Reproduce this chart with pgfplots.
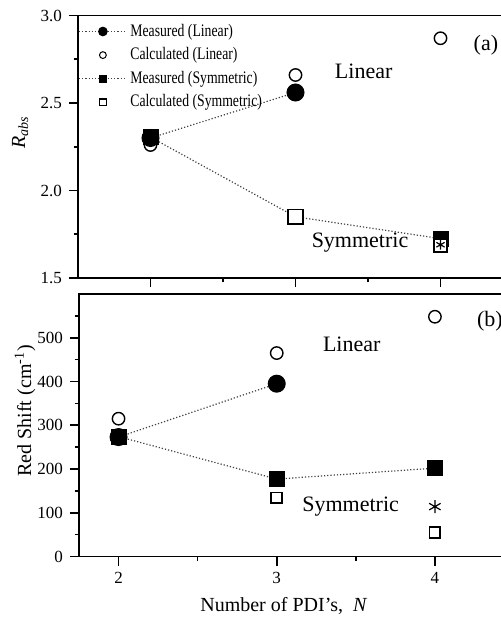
\documentclass[border=0pt]{standalone}
\usepackage{pgfplots}
\pgfplotsset{compat=1.18}
\usepackage{fontspec}
\setmainfont{Liberation Serif}
\newfontfamily\legfont[FakeStretch=0.78]{Liberation Serif}

\pgfdeclareplotmark{ast6}{%
  \pgfpathmoveto{\pgfqpoint{0pt}{\pgfplotmarksize}}\pgfpathlineto{\pgfqpoint{0pt}{-\pgfplotmarksize}}%
  \pgfpathmoveto{\pgfpointpolar{30}{\pgfplotmarksize}}\pgfpathlineto{\pgfpointpolar{210}{\pgfplotmarksize}}%
  \pgfpathmoveto{\pgfpointpolar{150}{\pgfplotmarksize}}\pgfpathlineto{\pgfpointpolar{330}{\pgfplotmarksize}}%
  \pgfusepathqstroke}

\pgfplotsset{
  panel/.style={
    scale only axis, width=217.5pt, height=131.25pt,
    tick align=outside, xtick pos=bottom, ytick pos=left,
    major tick length=4.5pt, minor tick length=2.2pt,
    tick style={line width=0.8pt, black},
    axis line style={line width=0.9pt},
    /pgf/number format/assume math mode=true,
    tick label style={font=\fontsize{8.5}{10}\selectfont},
    label style={font=\fontsize{11}{13}\selectfont},
    clip=false,
  },
  dotline/.style={black!75, line width=0.6pt, dash pattern=on 0.6pt off 1pt},
  fcirc/.style={dotline, mark=*, mark size=#1, mark options={solid, fill=black, draw=black}},
  fcirc/.default=4.2pt,
  ocirc/.style={only marks, mark=o, mark size=#1, mark options={solid, fill=white, draw=black, line width=0.7pt}},
  ocirc/.default=3.1pt,
  ocircl/.style={only marks, mark=o, mark size=#1, mark options={solid, fill=white, draw=black, line width=0.5pt}},
  fsq/.style={dotline, mark=square*, mark size=#1, mark options={solid, fill=black, draw=black}},
  fsq/.default=3.7pt,
  osq/.style={only marks, mark=square*, mark size=#1, mark options={solid, fill=white, draw=black, line width=0.9pt}},
  osql/.style={only marks, mark=square*, mark size=#1, mark options={solid, fill=white, draw=black, line width=0.6pt}},
  ast/.style={only marks, mark=ast6, mark size=#1, mark options={solid, draw=black, line width=0.6pt}},
  ast/.default=3.3pt,
}

\begin{document}
\begin{tikzpicture}
\begin{axis}[panel,
  at={(39pt,-7.75pt)}, anchor=north west,
  xmin=1.5, xmax=4.5, xtick={2,3,4}, minor xtick={2.5,3.5}, xticklabels={,,},
  ymin=1.5, ymax=3.0, ytick={1.5,2.0,2.5,3.0}, minor ytick={1.75,2.25,2.75},
  yticklabel style={/pgf/number format/.cd, fixed, fixed zerofill, precision=1},
  ylabel={\textit{R}\textsubscript{\textit{abs}}},
  every axis y label/.style={at={(axis description cs:-0.133,0.556)}, rotate=90, anchor=center},
  legend image code/.code={\draw[mark repeat=2, mark phase=2, #1] plot coordinates {(0cm,0cm) (0.42cm,0cm) (0.84cm,0cm)};},
  legend style={at={(0,1)}, anchor=north west, draw=none, fill=none,
    inner xsep=0pt, inner ysep=4pt, font=\legfont\fontsize{8.8}{10}\selectfont,
    row sep=4.2pt, column sep=1.5pt,
    nodes={inner sep=0pt}, cells={anchor=west}},
]
\addlegendimage{fcirc=2.1pt}
\addlegendentry{Measured (Linear)}
\addlegendimage{ocircl=1.7pt}
\addlegendentry{Calculated (Linear)}
\addlegendimage{fsq=1.8pt}
\addlegendentry{Measured (Symmetric)}
\addlegendimage{osql=1.7pt}
\addlegendentry{Calculated (Symmetric)}

\addplot[fcirc, forget plot] coordinates {(2,2.30) (3,2.56)};
\addplot[fsq, forget plot] coordinates {(2,2.305) (3,1.85) (4,1.725)};
\addplot[ocirc, forget plot] coordinates {(2,2.26) (3,2.66) (4,2.87)};
\addplot[osq=3.6pt, forget plot] coordinates {(3,1.85)};
\addplot[osq=3.2pt, forget plot] coordinates {(4,1.685)};
\addplot[ast=2.4pt, forget plot] coordinates {(4,1.69)};

\node[font=\fontsize{11}{13}\selectfont] at (axis cs:3.47,2.682) {Linear};
\node[font=\fontsize{11}{13}\selectfont] at (axis cs:3.445,1.704) {Symmetric};
\node[font=\fontsize{11}{13}\selectfont, anchor=west, inner sep=0pt] at (axis cs:4.226,2.828) {(a)};
\end{axis}

\begin{axis}[panel,
  at={(39.5pt,-147pt)}, anchor=north west,
  xmin=1.75, xmax=4.5, xtick={2,3,4}, minor xtick={2.5,3.5},
  ymin=0, ymax=600, ytick={0,100,200,300,400,500}, minor ytick={50,150,250,350,450,550},
  ylabel={Red Shift (cm\textsuperscript{-1})},
  every axis y label/.style={at={(axis description cs:-0.124,0.555)}, rotate=90, anchor=center},
  xlabel={Number of PDI's,~~\textit{N}},
  every axis x label/.style={at={(axis description cs:0.471,-0.19)}, anchor=center},
]
\addplot[fcirc] coordinates {(2,273) (3,395)};
\addplot[fsq] coordinates {(2,274) (3,177) (4,202)};
\addplot[ocirc] coordinates {(2,315) (3,465) (4,548)};
\addplot[osq=2.7pt] coordinates {(3,134) (4,55)};
\addplot[ast] coordinates {(4,114)};

\node[font=\fontsize{11}{13}\selectfont] at (axis cs:3.474,485) {Linear};
\node[font=\fontsize{11}{13}\selectfont] at (axis cs:3.467,114) {Symmetric};
\node[font=\fontsize{11}{13}\selectfont, anchor=west, inner sep=0pt] at (axis cs:4.264,537) {(b)};
\end{axis}
\pgfresetboundingbox
\useasboundingbox (0,0) rectangle (250.5pt,-309.5pt);
\end{tikzpicture}
\end{document}
